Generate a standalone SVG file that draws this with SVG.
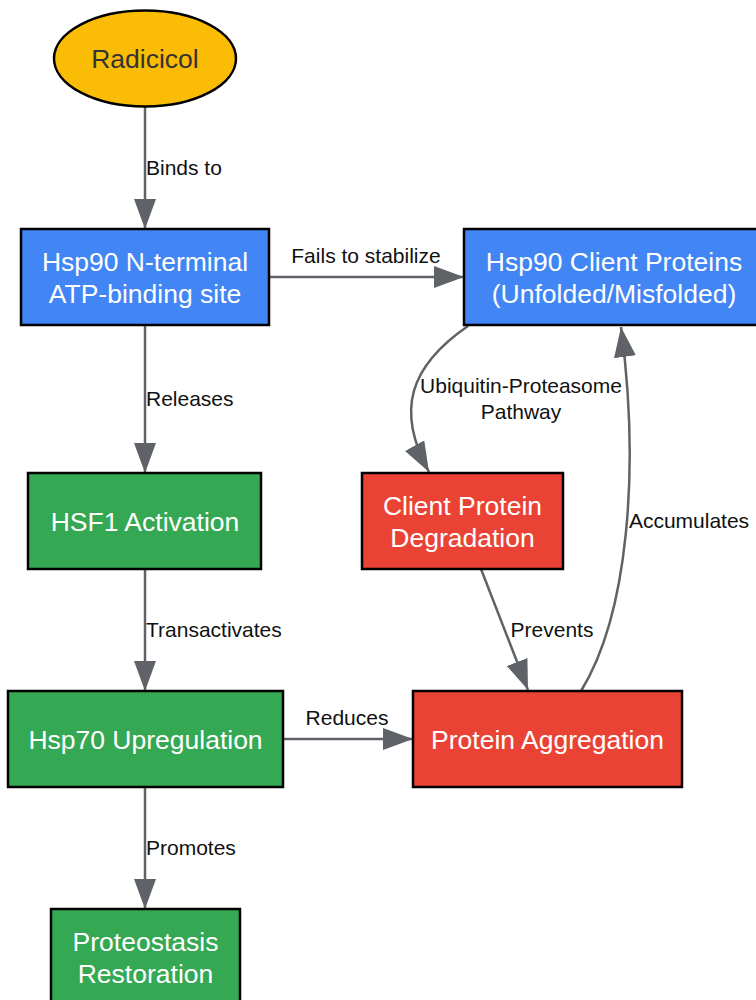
<svg xmlns="http://www.w3.org/2000/svg" width="756" height="1000" viewBox="0 0 756 1000">
<style>
.node{stroke:#000;stroke-width:2.5}
.blue{fill:#4285F4}.red{fill:#EA4335}.green{fill:#34A853}.yellow{fill:#FBBC05}
.nt{font-family:"Liberation Sans",Arial,sans-serif;font-size:26.5px;fill:#fff;text-anchor:middle}
.dark{fill:#333}
.edge{fill:none;stroke:#5f6368;stroke-width:2.5}
.el{font-family:"Liberation Sans",Arial,sans-serif;font-size:21px;fill:#111}
.mid{text-anchor:middle}
</style>
<defs>
<marker id="arr" viewBox="0 0 30 22" refX="30" refY="11" markerWidth="30" markerHeight="22" markerUnits="userSpaceOnUse" orient="auto">
<path d="M0,0 L30,11 L0,22 z" fill="#5f6368"/>
</marker>
</defs>
<rect width="756" height="1000" fill="#fff"/>
<g id="connectors">
<path class="edge" d="M145,107 L145,229" marker-end="url(#arr)"/>
<text class="el" x="146" y="175">Binds to</text>
<path class="edge" d="M269,277 L464,277" marker-end="url(#arr)"/>
<text class="el mid" x="366" y="263">Fails to stabilize</text>
<path class="edge" d="M145,325 L145,473" marker-end="url(#arr)"/>
<text class="el" x="146" y="406">Releases</text>
<path class="edge" d="M145,569 L145,691" marker-end="url(#arr)"/>
<text class="el" x="146" y="637">Transactivates</text>
<path class="edge" d="M283,739 L413,739" marker-end="url(#arr)"/>
<text class="el mid" x="347" y="725">Reduces</text>
<path class="edge" d="M145,787 L145,909" marker-end="url(#arr)"/>
<text class="el" x="146" y="855">Promotes</text>
<path class="edge" d="M468,326 C410,366 395,410 429,472" marker-end="url(#arr)"/>
<text class="el mid" x="521" y="393">Ubiquitin-Proteasome</text>
<text class="el mid" x="521" y="419">Pathway</text>
<path class="edge" d="M481,569 L528,690" marker-end="url(#arr)"/>
<text class="el mid" x="552" y="637">Prevents</text>
<path class="edge" d="M581,691 C628,615 640,470 621,327" marker-end="url(#arr)"/>
<text class="el mid" x="689" y="528">Accumulates</text>
</g>
<g id="radicicol">
<ellipse class="node yellow" cx="145" cy="58.5" rx="91" ry="48"/>
<text class="nt dark" x="145" y="68">Radicicol</text>
</g>
<g id="hsp90n">
<rect class="node blue" x="21" y="229" width="248" height="96"/>
<text class="nt" x="145" y="270.5">Hsp90 N-terminal</text>
<text class="nt" x="145" y="302.5">ATP-binding site</text>
</g>
<g id="clients">
<rect class="node blue" x="464" y="229" width="300" height="96"/>
<text class="nt" x="614" y="270.5">Hsp90 Client Proteins</text>
<text class="nt" x="614" y="302.5">(Unfolded/Misfolded)</text>
</g>
<g id="hsf1">
<rect class="node green" x="28" y="473" width="233" height="96"/>
<text class="nt" x="145" y="530.5">HSF1 Activation</text>
</g>
<g id="degradation">
<rect class="node red" x="362" y="473" width="201" height="96"/>
<text class="nt" x="462.5" y="514.5">Client Protein</text>
<text class="nt" x="462.5" y="546.5">Degradation</text>
</g>
<g id="hsp70">
<rect class="node green" x="8" y="691" width="275" height="96"/>
<text class="nt" x="145.5" y="748.5">Hsp70 Upregulation</text>
</g>
<g id="aggregation">
<rect class="node red" x="413" y="691" width="269" height="96"/>
<text class="nt" x="547.5" y="748.5">Protein Aggregation</text>
</g>
<g id="proteostasis">
<rect class="node green" x="51" y="909" width="189" height="96"/>
<text class="nt" x="145.5" y="951">Proteostasis</text>
<text class="nt" x="145.5" y="983">Restoration</text>
</g>
</svg>
